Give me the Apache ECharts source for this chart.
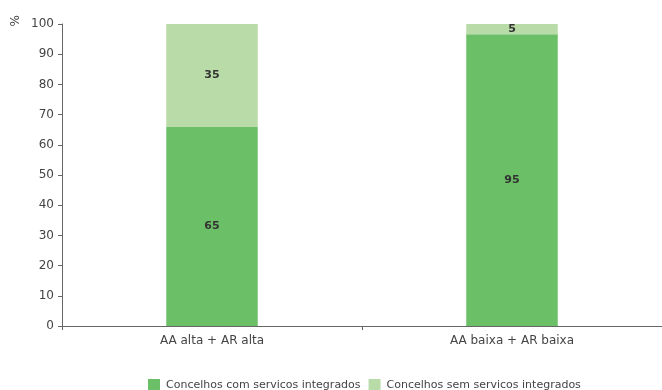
<!DOCTYPE html>
<html><head><meta charset="utf-8">
<script src="https://cdn.jsdelivr.net/npm/echarts@6/dist/echarts.min.js"></script>
<style>html,body{margin:0;padding:0;background:#fff}#c{width:662px;height:390px}</style>
</head><body><div id="c"></div>
<script>
var categories = ["AA alta + AR alta", "AA baixa + AR baixa"];
var seriesNames = ["Concelhos com servicos integrados", "Concelhos sem servicos integrados"];
var withServices = [65.9, 96.6];
var withoutServices = [34.1, 3.4];
var withLabels = ["65", "95"];
var withoutLabels = ["35", "5"];
var yTicks = [0, 10, 20, 30, 40, 50, 60, 70, 80, 90, 100];

var chart = echarts.init(document.getElementById('c'));
var font = "DejaVu Sans";
chart.setOption({
  animation: false,
  textStyle: {fontFamily: font},
  grid: {left: 62, right: 0, top: 24, bottom: 64},
  legend: {
    left: 148, top: 379, padding: 0, itemWidth: 12, itemHeight: 12, itemGap: 8,
    icon: 'rect',
    textStyle: {fontSize: 11, color: '#444', fontFamily: font, padding: [0,0,0,1]},
    data: seriesNames
  },
  graphic: [{type: 'text', left: 10, top: 15, rotation: Math.PI/2,
    style: {text: '%', fontSize: 12, fill: '#444', fontFamily: font}}],
  xAxis: {
    type: 'category', data: categories,
    axisLine: {lineStyle: {color: '#666', width: 1}},
    axisTick: {show: true, length: 4, lineStyle: {color: '#666'}},
    axisLabel: {fontSize: 12, color: '#444', margin: 9, fontFamily: font}
  },
  yAxis: {
    type: 'value', min: yTicks[0], max: yTicks[yTicks.length-1], interval: 10,
    axisLine: {show: true, lineStyle: {color: '#666', width: 1}},
    axisTick: {show: true, length: 4, lineStyle: {color: '#666'}},
    axisLabel: {fontSize: 12, color: '#444', margin: 8, fontFamily: font},
    splitLine: {show: false}
  },
  series: [
    {name: seriesNames[0], type: 'bar', stack: 's', barWidth: '30.5%', data: withServices,
     itemStyle: {color: '#6BBF67'},
     label: {show: true, position: 'inside', fontWeight: 'bold', fontSize: 11, color: '#333', fontFamily: font,
       formatter: function(p){ return withLabels[p.dataIndex]; }}},
    {name: seriesNames[1], type: 'bar', stack: 's', barWidth: '30.5%', data: withoutServices,
     itemStyle: {color: '#B8DBA7'},
     label: {show: true, position: 'inside', fontWeight: 'bold', fontSize: 11, color: '#333', fontFamily: font,
       formatter: function(p){ return withoutLabels[p.dataIndex]; }}}
  ]
});
</script></body></html>
